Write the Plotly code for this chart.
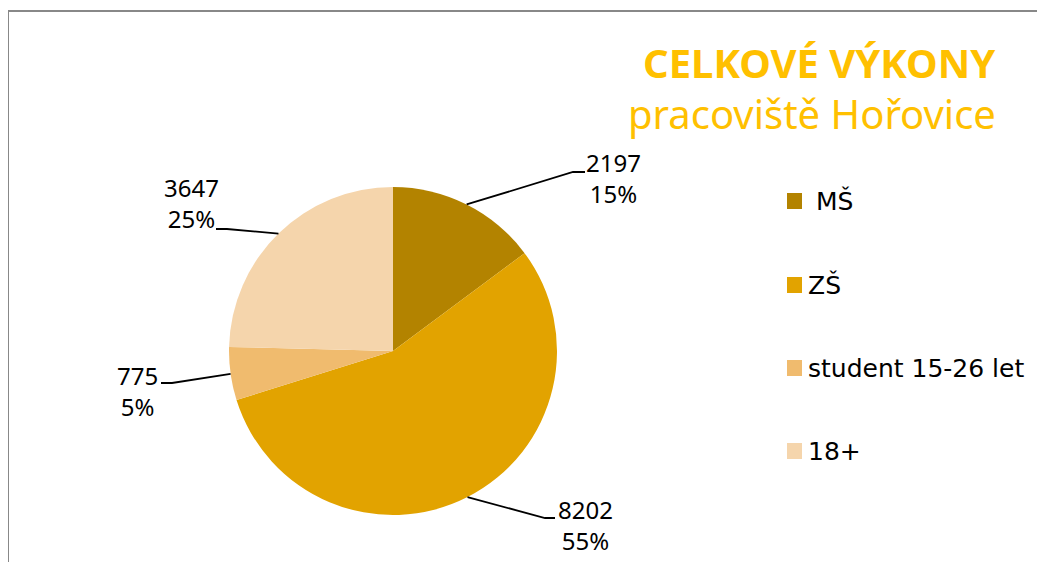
import math
import plotly.graph_objects as go

# ---- data ----
categories = [" MŠ", "ZŠ", "student 15-26 let", "18+"]
values = [2197, 8202, 775, 3647]
colors = ["#B38300", "#E2A300", "#F0BB6E", "#F5D5AC"]
title_line1 = "CELKOVÉ VÝKONY"
title_line2 = "pracoviště Hořovice"

W, H = 1045, 562
OFF = 8  # page body margin offset
FONT = "Noto Sans"
LEG_FONT = "DejaVu Sans"

def px(x):
    return (x - OFF) / W

def py(y):
    return 1 - (y - OFF) / H

# pie geometry (pixels)
CX, CY, R = 393, 351, 164

fig = go.Figure(go.Pie(
    labels=categories,
    values=values,
    marker=dict(colors=colors, line=dict(width=0)),
    sort=False,
    direction="clockwise",
    rotation=0,
    textinfo="none",
    hoverinfo="label+value+percent",
    showlegend=False,
    domain=dict(x=[px(CX - R), px(CX + R)], y=[py(CY + R), py(CY - R)]),
))

total = sum(values)
# label layout: elbow point, horizontal end, text centre
label_layout = [
    dict(elbow=(573, 172), end=(585, 172), text=(613, 178)),
    dict(elbow=(545, 518), end=(555, 518), text=(585, 525)),
    dict(elbow=(172, 383), end=(161, 383), text=(137, 391)),
    dict(elbow=(227, 229), end=(216, 229), text=(191, 203)),
]

shapes = []
annotations = []
cum = 0
for v, lay in zip(values, label_layout):
    mid = (cum + v / 2) / total * 2 * math.pi
    cum += v
    ex = CX + R * math.sin(mid)
    ey = CY - R * math.cos(mid)
    ox, oy = lay["elbow"]
    hx, hy = lay["end"]
    path = f"M {px(ex)},{py(ey)} L {px(ox)},{py(oy)} L {px(hx)},{py(hy)}"
    shapes.append(dict(type="path", xref="paper", yref="paper", path=path,
                       line=dict(color="black", width=1.8)))
    pct = round(v / total * 100)
    tx, ty = lay["text"]
    annotations.append(dict(
        x=px(tx), y=py(ty), xref="paper", yref="paper",
        text=f"{v}<br>{pct}%", showarrow=False, align="center",
        xanchor="center", yanchor="middle",
        font=dict(family=FONT, size=24, color="black"),
    ))

# custom legend
legend_y = [201, 285, 368, 451]
for cat, col, ly in zip(categories, colors, legend_y):
    shapes.append(dict(type="rect", xref="paper", yref="paper",
                       x0=px(787), x1=px(802), y0=py(ly + 8), y1=py(ly - 8),
                       fillcolor=col, line=dict(width=0)))
    annotations.append(dict(
        x=px(806), y=py(ly), xref="paper", yref="paper", text=cat,
        showarrow=False, xanchor="left", yanchor="middle",
        font=dict(family=LEG_FONT, size=25, color="black"),
    ))

# title
annotations.append(dict(x=px(998), y=py(63), xref="paper", yref="paper",
                        text=f"<b>{title_line1}</b>", showarrow=False,
                        xanchor="right", yanchor="middle",
                        font=dict(family=FONT, size=40, color="#FFC000")))
annotations.append(dict(x=px(998), y=py(113), xref="paper", yref="paper",
                        text=title_line2, showarrow=False,
                        xanchor="right", yanchor="middle",
                        font=dict(family=FONT, size=40, color="#FFC000")))

# frame lines
shapes.append(dict(type="line", xref="paper", yref="paper", x0=px(8), x1=1,
                   y0=py(11), y1=py(11), line=dict(color="#888888", width=2)))
shapes.append(dict(type="line", xref="paper", yref="paper", x0=px(8), x1=px(8),
                   y0=py(11), y1=0, line=dict(color="#888888", width=2)))

fig.update_layout(
    width=W, height=H,
    margin=dict(l=0, r=0, t=0, b=0),
    paper_bgcolor="white", plot_bgcolor="white",
    shapes=shapes, annotations=annotations,
)

fig.write_html("out.html")
